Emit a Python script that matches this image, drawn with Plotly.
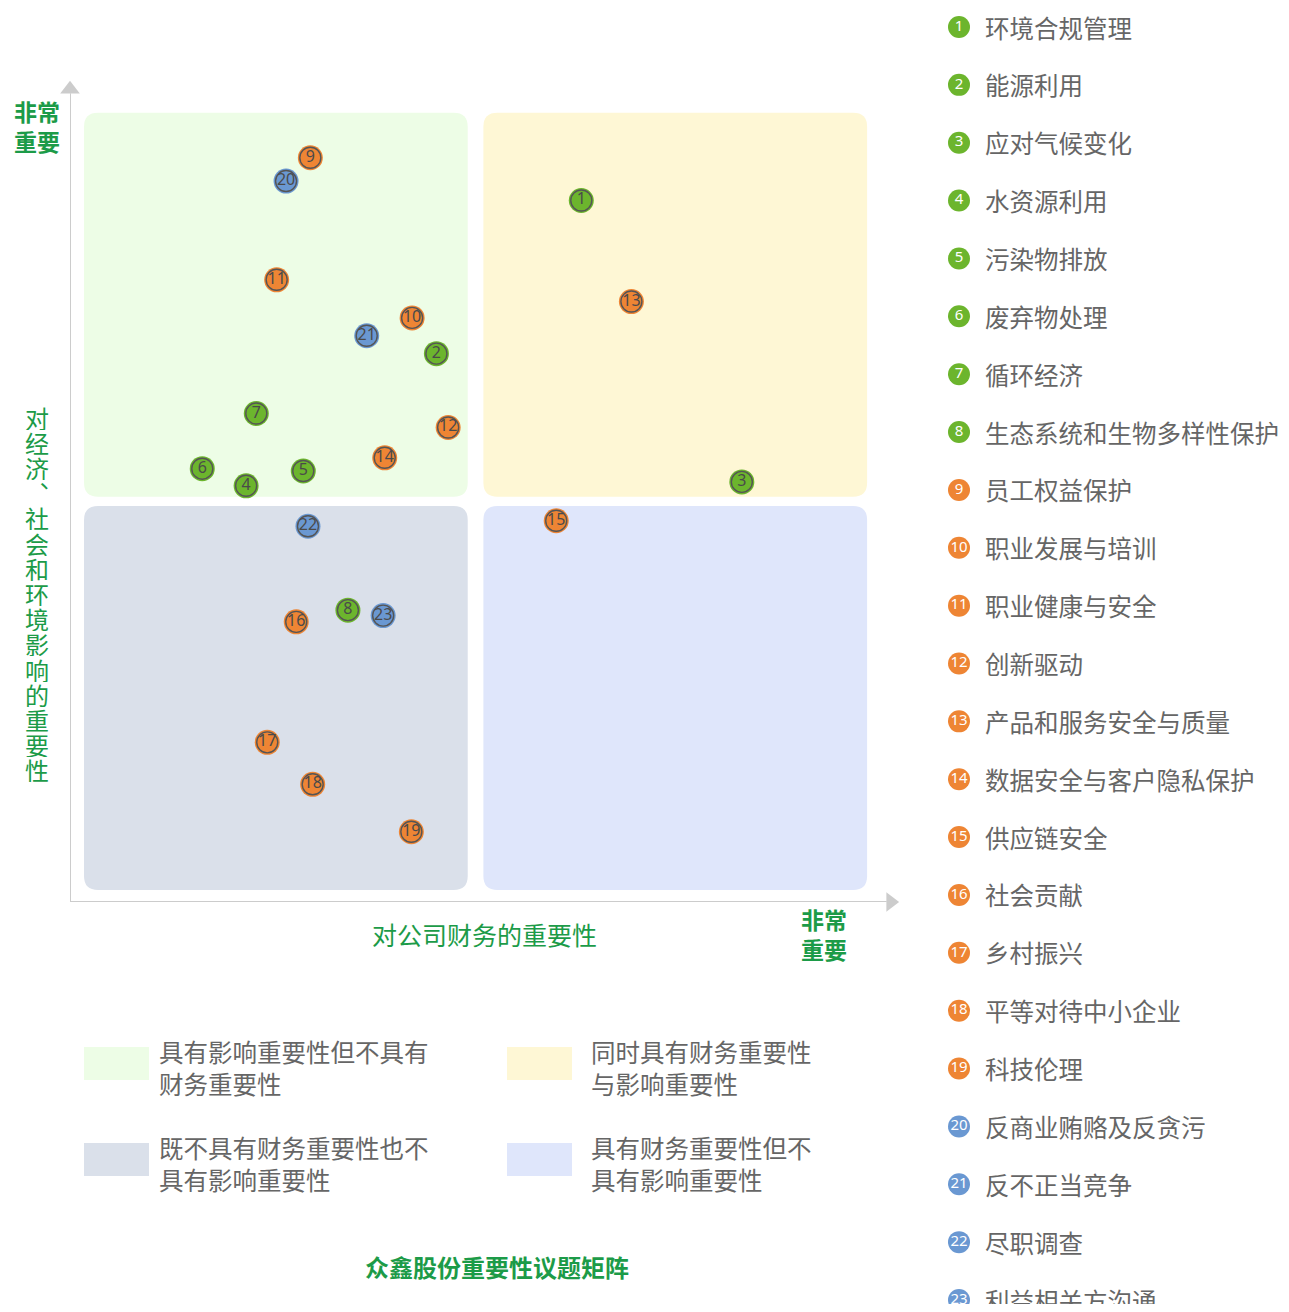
import plotly.graph_objects as go

# ---- data -------------------------------------------------------------
topics = [
    "环境合规管理", "能源利用", "应对气候变化", "水资源利用", "污染物排放",
    "废弃物处理", "循环经济", "生态系统和生物多样性保护", "员工权益保护",
    "职业发展与培训", "职业健康与安全", "创新驱动", "产品和服务安全与质量",
    "数据安全与客户隐私保护", "供应链安全", "社会贡献", "乡村振兴",
    "平等对待中小企业", "科技伦理", "反商业贿赂及反贪污", "反不正当竞争",
    "尽职调查", "利益相关方沟通",
]
category = ["env"] * 8 + ["soc"] * 11 + ["gov"] * 4
# importance to company finance (x) and to economy/society/environment (y)
financial = [6.35, 4.50, 8.40, 2.07, 2.80, 1.51, 2.20, 3.37, 2.89, 4.19, 2.46, 4.65,
             6.99, 3.84, 6.03, 2.71, 2.34, 2.92, 4.18, 2.58, 3.61, 2.86, 3.82]
impact = [8.87, 6.90, 5.25, 5.20, 5.39, 5.42, 6.13, 3.60, 9.42, 7.36, 7.85, 5.95,
          7.57, 5.56, 4.75, 3.45, 1.90, 1.36, 0.75, 9.12, 7.13, 4.68, 3.53]

cat_colors = {"env": "#6cb52d", "soc": "#ee8534", "gov": "#6a98d2"}

quadrant_labels = [
    "具有影响重要性但不具有<br>财务重要性",
    "同时具有财务重要性<br>与影响重要性",
    "既不具有财务重要性也不<br>具有影响重要性",
    "具有财务重要性但不<br>具有影响重要性",
]
quadrant_colors = ["#edfde6", "#fef7d5", "#dae0ea", "#dfe6fb"]

GREEN = "#1c9b48"
TEXT = "#666666"
FONT = "Noto Sans CJK SC"

W, H = 1281, 1296
OFF = 8


def fx(sx):
    return (sx - OFF) / W


def fy(sy):
    return 1 - (sy - OFF) / H


def rounded_rect(x0, y0, x1, y1, rx, ry):
    return (f"M{x0+rx},{y0} L{x1-rx},{y0} Q{x1},{y0} {x1},{y0+ry} "
            f"L{x1},{y1-ry} Q{x1},{y1} {x1-rx},{y1} L{x0+rx},{y1} "
            f"Q{x0},{y1} {x0},{y1-ry} L{x0},{y0+ry} Q{x0},{y0} {x0+rx},{y0} Z")


def label(sx, sy, text, size=24, color=TEXT, xanchor="center", align="center", **kw):
    return dict(x=fx(sx), y=fy(sy), xref="paper", yref="paper", text=text,
                showarrow=False, xanchor=xanchor, yanchor="middle", align=align,
                font=dict(family=FONT, size=size, color=color), **kw)


fig = go.Figure()

# quadrant backgrounds (data units: 0-10 on both axes)
boxes = [(0, 5.06, 4.9, 10), (5.1, 5.06, 10, 10), (0, 0, 4.9, 4.94), (5.1, 0, 10, 4.94)]
shapes = []
for (x0, y0, x1, y1), c in zip(boxes, quadrant_colors):
    shapes.append(dict(type="path", xref="x", yref="y", layer="below",
                       path=rounded_rect(x0, y0, x1, y1, 0.18, 0.18),
                       fillcolor=c, line=dict(width=0)))

# axis lines
shapes.append(dict(type="line", xref="x", yref="y", x0=-0.179, x1=-0.179, y0=-0.154, y1=10.25,
                   line=dict(color="#cccccc", width=2)))
shapes.append(dict(type="line", xref="x", yref="y", x0=-0.179, x1=10.25, y0=-0.154, y1=-0.154,
                   line=dict(color="#cccccc", width=2)))

fig.add_trace(go.Scatter(x=[-0.179], y=[10.3], mode="markers", xaxis="x", yaxis="y",
                         marker=dict(symbol="triangle-up", size=17, color="#cccccc"),
                         hoverinfo="skip", showlegend=False, cliponaxis=False))
fig.add_trace(go.Scatter(x=[10.3], y=[-0.154], mode="markers", xaxis="x", yaxis="y",
                         marker=dict(symbol="triangle-right", size=17, color="#cccccc"),
                         hoverinfo="skip", showlegend=False, cliponaxis=False))

colors = [cat_colors[c] for c in category]
nums = [str(i + 1) for i in range(len(topics))]

# matrix points: colored disc + dark ring with number
fig.add_trace(go.Scatter(x=financial, y=impact, mode="markers",
                         marker=dict(size=25, color=colors, line=dict(width=0)),
                         hoverinfo="skip", showlegend=False))
fig.add_trace(go.Scatter(x=financial, y=impact, mode="markers+text", text=nums,
                         textposition="middle center",
                         textfont=dict(family="Noto Sans", size=16, color="#4a4a4a"),
                         marker=dict(size=21, color=colors, line=dict(width=1.4, color="#555555")),
                         customdata=topics, hovertemplate="%{customdata}<extra></extra>",
                         showlegend=False))

# right-side topic list
idx = list(range(1, len(topics) + 1))
fig.add_trace(go.Scatter(x=[fx(959)] * len(topics), y=idx, xaxis="x2", yaxis="y2",
                         mode="markers+text", text=nums, textposition="middle center",
                         textfont=dict(family="Noto Sans", size=15, color="white"),
                         marker=dict(size=22, color=colors, line=dict(width=0)),
                         hoverinfo="skip", showlegend=False, cliponaxis=False))

annotations = []
for i, name in zip(idx, topics):
    annotations.append(dict(x=fx(983), y=i, xref="paper", yref="y2", text=name,
                            showarrow=False, xanchor="left", yanchor="middle",
                            font=dict(family=FONT, size=24.5, color=TEXT)))

# axis titles
annotations.append(label(484, 934, "对公司财务的重要性", size=25, color=GREEN))
ytitle = "对经济︑社会和环境影响的重要性"
for k, ch in enumerate(ytitle):
    annotations.append(label(37, 417 + k * 25.2, ch, size=24, color=GREEN,
                             height=25, borderpad=0))
annotations.append(label(37, 126, "<b>非常<br>重要</b>", size=23, color=GREEN))
annotations.append(label(824, 934, "<b>非常<br>重要</b>", size=23, color=GREEN))

# quadrant key
key_pos = [(84, 1047, 75), (507, 1047, 84), (84, 1143, 75), (507, 1143, 84)]
for (sx, sy, dx), c, lab in zip(key_pos, quadrant_colors, quadrant_labels):
    shapes.append(dict(type="rect", xref="paper", yref="paper",
                       x0=fx(sx), x1=fx(sx + 65), y0=fy(sy + 33), y1=fy(sy),
                       fillcolor=c, line=dict(width=0)))
    annotations.append(label(sx + dx - 2, sy + 20, lab, size=24.5, xanchor="left", align="left"))

annotations.append(label(497, 1266, "<b>众鑫股份重要性议题矩阵</b>", size=24, color=GREEN))

fig.update_layout(
    width=W, height=H,
    margin=dict(l=0, r=0, t=0, b=0),
    paper_bgcolor="white", plot_bgcolor="rgba(0,0,0,0)",
    xaxis=dict(domain=[fx(70), fx(900)], range=[-0.179, 10.42], visible=False),
    yaxis=dict(domain=[fy(902), fy(80)], range=[-0.154, 10.42], visible=False),
    xaxis2=dict(domain=[0, 1], range=[0, 1], visible=False, anchor="y2"),
    yaxis2=dict(domain=[0, 1], range=[23 + (1304 - 1300) / 57.86, 1 - (27 - 8) / 57.86],
                visible=False, anchor="x2"),
    shapes=shapes,
    annotations=annotations,
    font=dict(family=FONT),
)

fig.write_html("out.html")
